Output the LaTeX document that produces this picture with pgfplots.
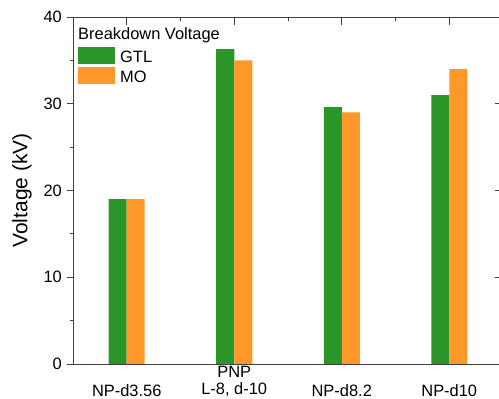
\documentclass[border=0pt]{standalone}
\usepackage{fontspec}
\setmainfont{Liberation Sans}
\usepackage{pgfplots}
\pgfplotsset{compat=1.18}
\definecolor{gtl}{RGB}{42,150,42}
\definecolor{mo}{RGB}{255,152,40}
\definecolor{axc}{RGB}{64,64,64}
\begin{document}
\begin{tikzpicture}
\begin{axis}[
  name=main,
  scale only axis,
  width=430bp, height=347bp,
  xmin=-0.5, xmax=3.5,
  ymin=0, ymax=40,
  axis x line*=bottom, axis y line*=left,
  ybar=0pt, bar width=18bp,
  xtick={0,1,2,3},
  xticklabels={NP-d3.56,{PNP\\L-8, d-10},NP-d8.2,NP-d10},
  xtick style={draw=none},
  xticklabel style={align=center, anchor=south, inner sep=0pt, yshift=-27bp, font=\fontsize{16.5}{17}\selectfont},
  ytick={0,10,20,30,40},
  minor y tick num=1,
  tick align=outside,
  major tick length=6bp,
  minor tick length=3bp,
  every tick/.style={axc, line width=0.9pt},
  yticklabel style={font=\fontsize{16.5}{19}\selectfont, inner sep=0pt, xshift=-5bp},
  /pgf/number format/assume math mode=true,
  axis line style={axc, line width=1pt},
  ylabel={Voltage (kV)},
  every axis y label/.style={font=\fontsize{21}{24}\selectfont, at={(rel axis cs:-0.1186,0.5)}, rotate=90, anchor=center},
  legend style={draw=none, fill=none, at={(rel axis cs:0,1)}, anchor=north west, xshift=5bp, yshift=-30bp, inner sep=0pt, row sep=3bp, font=\fontsize{16.5}{19}\selectfont, nodes={inner sep=0pt, anchor=base west}},
  legend cell align=left,
  legend image code/.code={\fill[#1,draw=none] (0bp,-2bp) rectangle (37bp,15bp);\path (0bp,0bp) -- (42bp,0bp);},
]
\addplot[fill=gtl, draw=none] coordinates {(0,19) (1,36.3) (2,29.6) (3,31)};
\addlegendentry{GTL}
\addplot[fill=mo, draw=none] coordinates {(0,19) (1,35) (2,29) (3,34)};
\addlegendentry{MO}
\end{axis}
\begin{axis}[
  scale only axis,
  width=430bp, height=347bp,
  xmin=-0.5, xmax=3.5,
  ymin=0, ymax=40,
  axis x line*=top, axis y line*=right,
  y axis line style={draw=none},
  xtick={0,1,2,3}, minor x tick num=1,
  ytick={0,10,20,30,40}, minor y tick num=1,
  xticklabels={}, yticklabels={},
  tick align=inside,
  major tick length=8bp,
  minor tick length=4bp,
  every tick/.style={axc, line width=0.9pt},
  axis line style={axc, line width=1pt},
]
\end{axis}
\node[anchor=base west, font=\fontsize{16.5}{19}\selectfont, inner sep=0pt] at (5bp,324bp) {Breakdown Voltage};
\pgfresetboundingbox
\useasboundingbox (-73bp,-35bp) rectangle (426bp,364bp);
\end{tikzpicture}
\end{document}
